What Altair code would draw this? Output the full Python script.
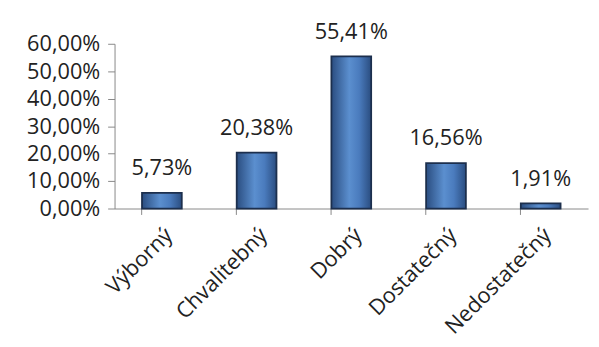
import altair as alt
import pandas as pd

categories = ["Výborný", "Chvalitebný", "Dobrý", "Dostatečný", "Nedostatečný"]
values = [5.73, 20.38, 55.41, 16.56, 1.91]
y_ticks = [0, 10, 20, 30, 40, 50, 60]

df = pd.DataFrame({"kat": categories, "val": values})
df["lab"] = [f"{v:.2f}".replace(".", ",") + "%" for v in values]

FONT = "Open Sans"
FS = 22

grad = alt.Gradient(
    gradient="linear",
    x1=0, x2=1, y1=0, y2=0,
    stops=[
        alt.GradientStop(color="#2a4d80", offset=0),
        alt.GradientStop(color="#5b8fcf", offset=0.45),
        alt.GradientStop(color="#4a7bbd", offset=0.7),
        alt.GradientStop(color="#2a4d80", offset=1),
    ],
)

x = alt.X(
    "kat:N",
    sort=categories,
    scale=alt.Scale(paddingInner=0.58, paddingOuter=0.29),
    axis=alt.Axis(
        title=None,
        labelAngle=-45,
        labelAlign="right",
        labelBaseline="top",
        labelFont=FONT,
        labelFontSize=FS,
        labelColor="#222222",
        labelPadding=10,
        labelOverlap=False,
        domainColor="#888888",
        tickColor="#888888",
        tickSize=6,
        ticks=True,
        grid=False,
        bandPosition=0,
    ),
)

y = alt.Y(
    "val:Q",
    scale=alt.Scale(domain=[0, 60], nice=False),
    axis=alt.Axis(
        title=None,
        values=y_ticks,
        tickCount=7,
        labelExpr="replace(format(datum.value, '.2f'), '.', ',') + '%'",
        labelFont=FONT,
        labelFontSize=FS,
        labelColor="#222222",
        labelPadding=8,
        labelOverlap=False,
        labelFlush=False,
        domainColor="#888888",
        tickColor="#888888",
        tickSize=7,
        grid=False,
    ),
)

bars = alt.Chart(df).mark_bar(
    color=grad, stroke="#1c2f4d", strokeWidth=1.8
).encode(x=x, y=y)

text = alt.Chart(df).mark_text(
    dy=-13, font=FONT, fontSize=FS, color="#222222", baseline="bottom"
).encode(x=x, y=y, text="lab:N")

chart = alt.layer(bars, text).properties(
    width=480,
    height=167,
    background="white",
    view=alt.ViewBackground(stroke="#ffffff", strokeOpacity=0, strokeWidth=0),
    autosize=alt.AutoSizeParams(type="none"),
    padding={"left": 108, "top": 34, "right": 3, "bottom": 130},
).configure_view(stroke="#ffffff", strokeOpacity=0, strokeWidth=0).configure_axis(grid=False)

chart.save("out.html", embed_options={"renderer": "svg", "actions": False})
